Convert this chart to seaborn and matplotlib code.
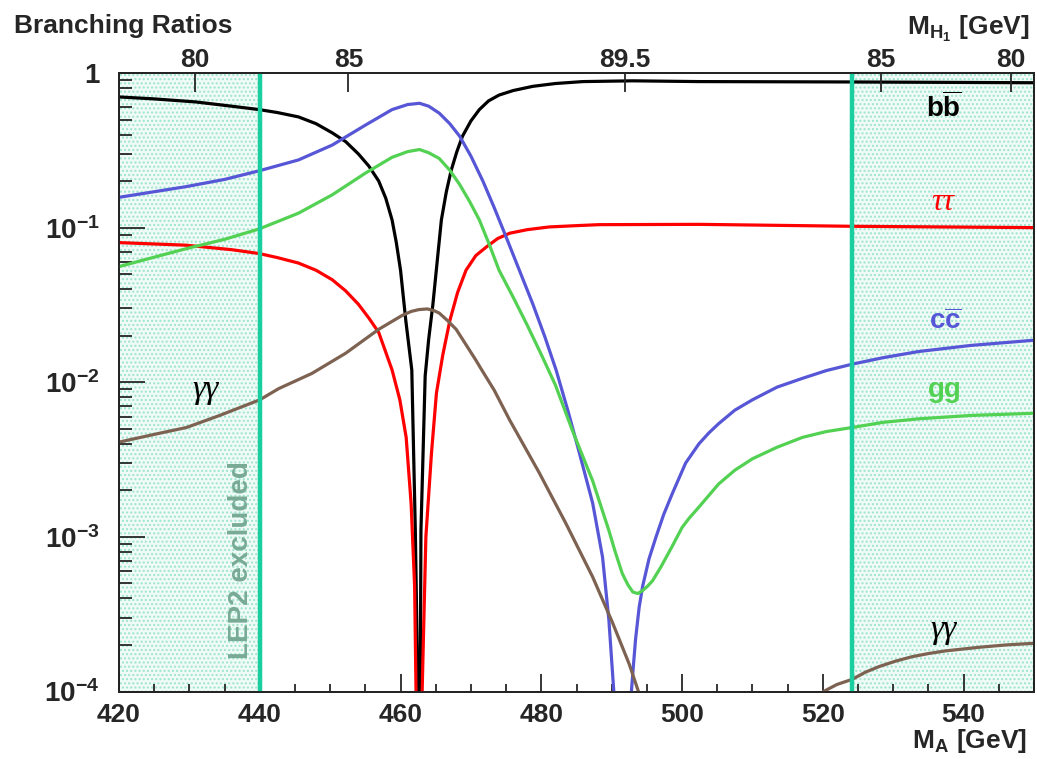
import numpy as np
import pandas as pd
import matplotlib
matplotlib.use("Agg")
import matplotlib.pyplot as plt
from matplotlib.ticker import MultipleLocator, FixedLocator, NullLocator, NullFormatter, LogLocator
import seaborn as sns

# ---------------- data ----------------
ma_bb = [420, 425, 430.9, 436, 439.9, 442.5, 445.5, 448, 450.3, 452.2, 454.0, 455.5, 456.9, 457.9, 458.8,
         459.4, 460.0, 460.75, 461.6, 462.1, 462.46, 462.65, 462.8, 462.9, 463.5, 464.0, 464.6, 465.2,
         465.8, 466.5, 467.2, 468.0, 468.8, 470.0, 471.2, 472.5, 474.0, 476.0, 478.8, 482.0, 485.9,
         493.0, 502.4, 524.2, 550]
br_bb = [0.70, 0.68, 0.65, 0.61, 0.58, 0.555, 0.52, 0.47, 0.41, 0.36, 0.30, 0.25, 0.20, 0.155, 0.112,
         0.08, 0.053, 0.025, 0.012, 0.0011, 1e-4, 1e-6, 1e-4, 0.0011, 0.011, 0.019, 0.032, 0.06,
         0.112, 0.17, 0.235, 0.31, 0.39, 0.49, 0.58, 0.66, 0.72, 0.77, 0.82, 0.855, 0.88,
         0.89, 0.88, 0.875, 0.865]

ma_tautau = [420, 429.5, 436, 439.9, 442.5, 445.5, 448, 450.3, 452.2, 454.0, 455.5, 456.9, 458.8, 459.9,
             460.8, 461.5, 462.0, 462.2, 462.62, 463.07, 463.6, 464.4, 465.1, 466.0, 467.0, 468.1,
             469.3, 470.7, 472.2, 473.8, 475.5, 478.0, 481.1, 485.0, 488.2, 502.4, 524.2, 550]
br_tautau = [0.080, 0.077, 0.072, 0.068, 0.064, 0.059, 0.053, 0.046, 0.039, 0.032, 0.026, 0.021, 0.012, 0.0077,
             0.0044, 0.00165, 0.00048, 1e-4, 1e-6, 1e-4, 0.001, 0.0035, 0.0085, 0.015, 0.025, 0.038,
             0.053, 0.066, 0.075, 0.085, 0.092, 0.097, 0.101, 0.103, 0.1045, 0.105, 0.102, 0.100]

ma_cc = [420, 429.5, 435, 439.9, 445.5, 450.3, 455.0, 458.8, 461.0, 462.7, 464.0, 465.5, 467.0, 468.4,
         470.0, 471.7, 473.3, 475.0, 478.8, 480.5, 482.1, 483.8, 485.4, 487.3, 488.7, 489.6, 490.3, 491.55,
         492.8, 493.1, 493.4, 493.9, 494.4, 495.3, 496.3, 497.4, 498.6, 500.5, 502.4, 503.8, 505.2,
         507.5, 510.0, 513.5, 517.1, 520.5, 524.2, 528.5, 533.6, 541.0, 550]
br_cc = [0.157, 0.184, 0.205, 0.233, 0.274, 0.342, 0.46, 0.58, 0.625, 0.637, 0.61, 0.55, 0.47, 0.39,
         0.29, 0.20, 0.135, 0.087, 0.032, 0.0197, 0.012, 0.0065, 0.0035, 0.00165, 0.00074, 0.00029, 1e-4, 1e-6,
         1e-4, 0.00015, 0.00022, 0.00035, 0.00048, 0.00072, 0.001, 0.0014, 0.0019, 0.0030, 0.0040, 0.0047, 0.0054,
         0.0066, 0.0077, 0.0093, 0.0106, 0.0119, 0.0131, 0.0144, 0.0158, 0.0173, 0.0187]

ma_gg = [420, 429.5, 435, 439.9, 445.5, 450.3, 455.0, 458.8, 461.0, 462.7, 464.0, 465.5, 467.0, 468.4,
         469.8, 471.2, 472.6, 474.0, 476.0, 478.0, 480.0, 482.0, 484.4, 487.3, 489.6, 490.5, 491.5, 492.3,
         493.0, 493.7, 494.4, 495.1, 495.8, 497.0, 498.6, 500.0, 501.0, 502.4, 505.2, 507.5, 510.0,
         513.5, 517.1, 520.5, 524.2, 528.5, 533.6, 541.0, 550]
br_gg = [0.056, 0.073, 0.084, 0.098, 0.124, 0.163, 0.225, 0.285, 0.31, 0.32, 0.305, 0.28, 0.235, 0.19,
         0.148, 0.112, 0.078, 0.053, 0.0355, 0.0234, 0.0151, 0.0096, 0.0049, 0.0023, 0.0011, 0.0008, 0.00058, 0.00049,
         0.00044, 0.00043, 0.00045, 0.00048, 0.00052, 0.00064, 0.00087, 0.00115, 0.00132, 0.00156, 0.0022, 0.0027, 0.0032,
         0.0038, 0.0044, 0.0048, 0.0051, 0.0055, 0.0058, 0.0061, 0.0063]

ma_gamgam = [420, 425, 429.6, 434.3, 440, 442.7, 447.4, 452.2, 456.9, 460.2, 461.5, 462.6, 463.8, 464.8,
             465.5, 466.7, 467.9, 469.3, 470.7, 471.4, 473.3, 475.5, 479.7, 483.5, 487.3, 490.1, 492.5,
             493.8, 507.0, 520.1, 522.0, 524.2, 526.0, 528.0, 530.3, 532.7, 535.0, 537.4, 542.1, 546.0, 550]
br_gamgam = [0.0041, 0.0046, 0.0051, 0.0061, 0.0077, 0.0091, 0.0114, 0.0154, 0.022, 0.027, 0.0287, 0.0295, 0.0298, 0.029,
             0.028, 0.025, 0.022, 0.0175, 0.0139, 0.0123, 0.0089, 0.0057, 0.0026, 0.00122, 0.00055, 0.00028, 0.00015,
             1e-4, 1e-6, 1e-4, 0.000111, 0.00012, 0.000133, 0.000145, 0.000157, 0.000168, 0.000176, 0.000183, 0.000193, 0.0002, 0.000205]

channels = ["bb", "tautau", "cc", "gg", "gamgam"]
colors = {"bb": "#000000", "tautau": "#ff0000", "cc": "#5656d6", "gg": "#52d152", "gamgam": "#7d6252"}

# top axis: M_H1 values and the M_A where they occur
top_tick_ma = [430.8, 452.6, 491.9, 528.2, 546.7]
top_tick_labels = ["80", "85", "89.5", "85", "80"]

excl_low = (420, 440)
excl_high = (524.2, 550)

# ---------------- dataframe ----------------
frames = []
for name, ma, br in [("bb", ma_bb, br_bb), ("tautau", ma_tautau, br_tautau), ("cc", ma_cc, br_cc),
                     ("gg", ma_gg, br_gg), ("gamgam", ma_gamgam, br_gamgam)]:
    frames.append(pd.DataFrame({"MA": ma, "BR": br, "channel": name}))
df = pd.concat(frames, ignore_index=True)

# ---------------- style ----------------
sns.set_style("ticks")
plt.rcParams["font.family"] = ["Liberation Sans", "DejaVu Sans"]
plt.rcParams["font.weight"] = "bold"
plt.rcParams["mathtext.fontset"] = "custom"
plt.rcParams["mathtext.rm"] = "Liberation Sans:bold"
plt.rcParams["mathtext.bf"] = "Liberation Sans:bold"
plt.rcParams["mathtext.it"] = "Liberation Sans:bold"
plt.rcParams["hatch.linewidth"] = 1.0

fig = plt.figure(figsize=(10.37, 7.59), dpi=100)
ax = fig.add_axes([119 / 1037, 1 - 691.5 / 759, (1034 - 119) / 1037, (691.5 - 73) / 759])

teal = "#19cf9f"
for lo, hi in [excl_low, excl_high]:
    ax.axvspan(lo, hi, facecolor="#f0fbf7", edgecolor="#9de4cd", hatch="....", linewidth=0, zorder=0)

sns.lineplot(data=df, x="MA", y="BR", hue="channel", hue_order=channels, palette=colors,
             estimator=None, sort=False, legend=False, linewidth=2.3, ax=ax, zorder=3)

ax.axvline(excl_low[1], color=teal, lw=3.2, zorder=4)
ax.axvline(excl_high[0], color=teal, lw=3.2, zorder=4)

ax.set_yscale("log")
ax.set_xlim(420, 550)
ax.set_ylim(1e-4, 1)
ax.set_xlabel("")
ax.set_ylabel("")

# x ticks
ax.xaxis.set_major_locator(MultipleLocator(20))
ax.xaxis.set_minor_locator(MultipleLocator(5))
ax.tick_params(axis="x", which="major", direction="in", length=13, width=1.3, labelsize=19, pad=8,
               top=False, bottom=True)
ax.tick_params(axis="x", which="minor", direction="in", length=6, width=1.3, top=False, bottom=True)
for lab in ax.get_xticklabels():
    lab.set_fontweight("bold")

# y ticks
ax.yaxis.set_major_locator(FixedLocator([1e-4, 1e-3, 1e-2, 1e-1, 1]))
ax.set_yticklabels([r"$\mathbf{10^{-4}}$", r"$\mathbf{10^{-3}}$", r"$\mathbf{10^{-2}}$",
                    r"$\mathbf{10^{-1}}$", "1"])
ax.yaxis.set_minor_locator(LogLocator(base=10, subs=np.arange(2, 10), numticks=20))
ax.yaxis.set_minor_formatter(NullFormatter())
ax.tick_params(axis="y", which="major", direction="in", length=19, width=1.3, labelsize=20, pad=14,
               left=True, right=False)
ax.tick_params(axis="y", which="minor", direction="in", length=9.5, width=1.3, left=True, right=False)
for lab in ax.get_yticklabels():
    lab.set_fontweight("bold")

for sp in ax.spines.values():
    sp.set_visible(True)
    sp.set_linewidth(1.3)
    sp.set_color("black")

# top axis
ax2 = ax.twiny()
ax2.set_xlim(420, 550)
ax2.xaxis.set_major_locator(FixedLocator(top_tick_ma))
ax2.set_xticklabels(top_tick_labels)
ax2.xaxis.set_minor_locator(NullLocator())
ax2.tick_params(axis="x", which="major", direction="in", length=13.5, width=1.3, labelsize=19, pad=1)
for lab in ax2.get_xticklabels():
    lab.set_fontweight("bold")
for sp in ax2.spines.values():
    sp.set_linewidth(1.3)


def px(xp, yp):
    return (xp - 119) / (1034 - 119), 1 - (yp - 73) / (691.5 - 73)


def lab(xp, yp, s, color, **kw):
    x, y = px(xp, yp)
    ax.text(x, y, s, color=color, transform=ax.transAxes, ha="center", va="center", zorder=6, **kw)


lab(944, 108, r"$\mathbf{b\overline{b}}$", "black", fontsize=20)
lab(943, 203, "ττ", "#ff0000", fontsize=23, family=["Liberation Serif"], style="italic", fontweight="normal")
lab(945, 322, r"$\mathbf{c\overline{c}}$", "#5656d6", fontsize=20)
lab(945, 390, "gg", "#52d152", fontsize=20, fontweight="bold")
lab(206, 390, "γγ", "black", fontsize=24, family=["Liberation Serif"], style="italic", fontweight="normal")
lab(944, 630, "γγ", "black", fontsize=24, family=["Liberation Serif"], style="italic", fontweight="normal")
lab(241, 560, "LEP2 excluded", "#78aa95", fontsize=20, fontweight="bold", rotation=90)

# titles
fig.text(14 / 1037, 1 - 33 / 759, "Branching Ratios", fontsize=19, fontweight="bold", ha="left", va="baseline")
fig.text(1030 / 1037, 1 - 35 / 759, r"$\mathbf{M_{H_{1}}\ [GeV]}$", fontsize=19, ha="right", va="baseline")
fig.text(1027 / 1037, 1 - 748 / 759, r"$\mathbf{M_{A}\ [GeV]}$", fontsize=19, ha="right", va="baseline")

fig.savefig("out.png", dpi=100)
